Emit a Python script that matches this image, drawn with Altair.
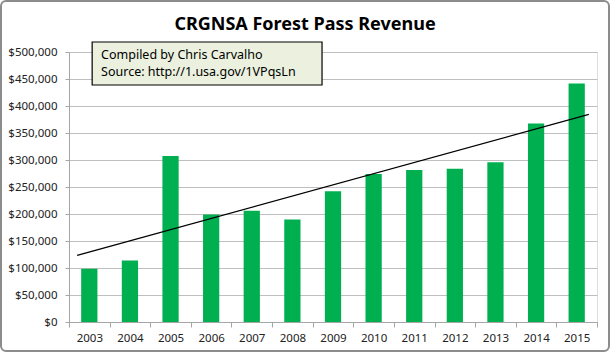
import altair as alt
import pandas as pd

years = [2003, 2004, 2005, 2006, 2007, 2008, 2009, 2010, 2011, 2012, 2013, 2014, 2015]
revenue = [98400, 113900, 307500, 199000, 206000, 190000, 242000, 274000, 281600, 284000, 296000, 367600, 441800]
y_ticks = [0, 50000, 100000, 150000, 200000, 250000, 300000, 350000, 400000, 450000, 500000]

note_lines = ["Compiled by Chris Carvalho", "Source: http://1.usa.gov/1VPqsLn"]
title_text = "CRGNSA Forest Pass Revenue"

FONT = "Noto Sans"
df = pd.DataFrame({"year": years, "revenue": revenue})

xq_scale = alt.Scale(domain=[2002.5, 2015.5], nice=False, zero=False)
y_scale = alt.Scale(domain=[0, 500000], nice=False)
y_axis = alt.Axis(values=y_ticks, format="$,.0f", title=None,
                  labelFont=FONT, labelFontSize=11.5, labelColor="#222", labelOverlap=False,
                  gridColor="#BFBFBF", domainColor="#A6A6A6", tickColor="#A6A6A6",
                  tickSize=4, labelPadding=8)

bars = alt.Chart(df).mark_bar(color="#00B050", width=alt.RelativeBandSize(0.4)).encode(
    x=alt.X("year:O", title=None,
            scale=alt.Scale(paddingInner=0, paddingOuter=0),
            axis=alt.Axis(labelAngle=0, tickBand="extent", labelFont=FONT, labelFontSize=11.5,
                          labelColor="#222", domainColor="#A6A6A6", tickColor="#A6A6A6",
                          tickSize=5, labelPadding=5, grid=False)),
    y=alt.Y("revenue:Q", title=None, scale=y_scale, axis=y_axis),
)

trend = alt.Chart(df).transform_regression(
    "year", "revenue", extent=[2002.7, 2015.3]
).mark_line(color="black", strokeWidth=1.3).encode(
    x=alt.X("year:Q", scale=xq_scale, axis=None),
    y=alt.Y("revenue:Q", scale=y_scale, axis=y_axis),
)

box_df = pd.DataFrame({"x1": [2003.07], "x2": [2008.73], "y1": [518500], "y2": [438900]})
box = alt.Chart(box_df).mark_rect(fill="#EBF1DE", stroke="black", strokeWidth=1.2).encode(
    x=alt.X("x1:Q", scale=xq_scale, axis=None),
    x2="x2:Q",
    y=alt.Y("y1:Q", scale=y_scale, axis=y_axis),
    y2="y2:Q",
)

note_df = pd.DataFrame({"line": note_lines, "x": [2003.29, 2003.29], "y": [494400, 463500]})
note = alt.Chart(note_df).mark_text(align="left", baseline="middle", font=FONT, fontSize=12.5, color="black").encode(
    x=alt.X("x:Q", scale=xq_scale, axis=None),
    y=alt.Y("y:Q", scale=y_scale, axis=y_axis),
    text="line:N",
)

title = alt.Chart(pd.DataFrame({"t": [title_text]})).mark_text(
    align="center", baseline="alphabetic", font=FONT, fontSize=18, fontWeight="bold", color="black"
).encode(x=alt.value(236), y=alt.value(-22), text="t:N")

border = alt.Chart(pd.DataFrame({"a": [0]})).mark_rect(
    fill=None, stroke="#8C8C8C", strokeWidth=2, cornerRadius=5
).encode(x=alt.value(-68), x2=alt.value(540), y=alt.value(-51), y2=alt.value(299))

chart = alt.layer(bars, trend, box, note, title, border).resolve_scale(x="independent").properties(
    width=528, height=270,
    autosize=alt.AutoSizeParams(type="none"),
    padding={"left": 69, "top": 52, "right": 14, "bottom": 31},
).configure_view(stroke=None).configure(background="white")

chart.save("out.html", embed_options={"renderer": "svg", "actions": False})
